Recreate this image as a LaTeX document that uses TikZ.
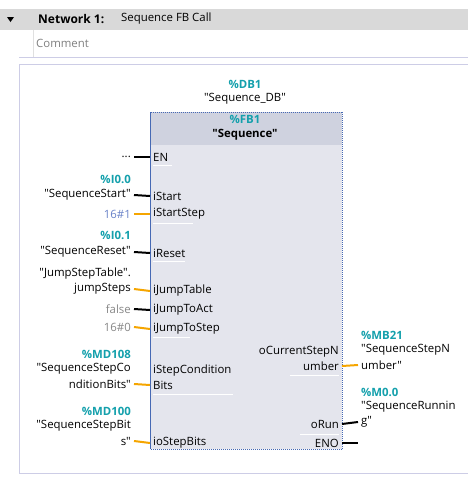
\documentclass[tikz,border=0pt]{standalone}
\usepackage{fontspec}
\setmainfont{Open Sans}[Ligatures=TeXOff]
\usetikzlibrary{positioning}
\definecolor{addrteal}{RGB}{20,160,172}
\definecolor{wireor}{RGB}{245,165,0}
\definecolor{lav}{RGB}{205,205,230}
\definecolor{hdrgray}{RGB}{217,217,217}
\definecolor{blkbody}{RGB}{228,229,237}
\definecolor{blkhead}{RGB}{207,210,223}
\definecolor{blkedge}{RGB}{70,105,180}
\definecolor{constblue}{RGB}{105,130,200}
\definecolor{constgray}{RGB}{135,135,135}
\begin{document}
\begin{tikzpicture}[x=1pt,y=-1pt,
  every node/.style={font=\fontsize{11.4}{13}\selectfont,inner sep=0pt},
  lab/.style={anchor=east,inner xsep=3pt},
  addr/.style={lab,text=addrteal,font=\fontsize{11.4}{13}\selectfont\bfseries},
  pin/.style={anchor=west,inner xsep=3pt},
  rpin/.style={anchor=east,inner xsep=3pt},
  rlab/.style={anchor=west,inner xsep=3pt},
  raddr/.style={rlab,text=addrteal,font=\fontsize{11.4}{13}\selectfont\bfseries},
  bw/.style={draw=black,line width=2pt},
  ow/.style={draw=wireor,line width=2pt},
  sepline/.style={draw=white,line width=1pt}]
\useasboundingbox (0,0) rectangle (468,480);
% network header and comment
\fill[hdrgray] (0,9) rectangle (468,30);
\fill (7,17) -- (14,17) -- (10.5,22) -- cycle;
\node[anchor=west,font=\fontsize{12}{14}\selectfont\bfseries] (nettitle) at (38,19) {Network 1:};
\node[anchor=west] (netname) at (121,19) {Sequence FB Call};
\draw[black!12] (33,30) -- (33,57);
\node[anchor=west,text=gray] (comment) at (36,43) {Comment};
\draw[lav] (19,57) -- (468,57);
\draw[lav] (19,64) rectangle (480,473);
% block
\node[fill=blkbody,minimum width=192pt,minimum height=337pt,anchor=north west] (seq) at (150,112) {};
\fill[blkhead] (seq.north west) rectangle ([yshift=-33pt]seq.north east);
\draw[blkedge,densely dotted,line width=1pt] (seq.north west) rectangle (seq.south east);
\draw[blkedge,line width=1pt] (seq.north west) -- (seq.south west);
\node[text=addrteal,font=\fontsize{11.4}{13}\selectfont\bfseries] (db) at (245,84) {\%DB1};
\node (dbname) at (245,99) {"Sequence\_DB"};
\node[text=addrteal,font=\fontsize{11.4}{13}\selectfont\bfseries] (fb) at (245,119) {\%FB1};
\node[font=\fontsize{11.4}{13}\selectfont\bfseries] (fbname) at (245,135) {"Sequence"};
% input pins
\node[pin] (pEN) at (150,157) {EN};
\node[pin] (pStart) at (150,196) {iStart};
\node[pin] (pStartStep) at (150,214) {iStartStep};
\node[pin] (pReset) at (150,253) {iReset};
\node[pin] (pJumpTable) at (150,291) {iJumpTable};
\node[pin] (pJumpToAct) at (150,310) {iJumpToAct};
\node[pin] (pJumpToStep) at (150,329) {iJumpToStep};
\node[pin] (pCond) at (150,371) {iStepCondition};
\node[pin] (pCondB) at (150,385) {Bits};
\node[pin] (pStepBits) at (150,443) {ioStepBits};
% output pins
\node[rpin] (pCur) at (342,352) {oCurrentStepN};
\node[rpin] (pCurB) at (342,366) {umber};
\node[rpin] (pRun) at (342,424) {oRun};
\node[rpin] (pENO) at (342,443) {ENO};
% separators
\draw[sepline] (153,165) -- (172,165);
\draw[sepline] (153,223) -- (193,223);
\draw[sepline] (153,261) -- (185,261);
\draw[sepline] (153,337) -- (190,337);
\draw[sepline] (153,394) -- (233,394);
\draw[sepline] (290,375) -- (339,375);
\draw[sepline] (300,434) -- (339,434);
% input operands
\node[lab] (lEN) at (134,157) {...};
\node[addr] (aStart) at (134,179) {\%I0.0};
\node[lab] (lStart) at (134,195) {"SequenceStart"};
\node[lab,text=constblue] (lStartStep) at (134,214) {16\#1};
\node[addr] (aReset) at (134,235) {\%I0.1};
\node[lab] (lReset) at (134,252) {"SequenceReset"};
\node[lab] (lJumpTableA) at (134,274) {"JumpStepTable".};
\node[lab] (lJumpTable) at (134,289) {jumpSteps};
\node[lab,text=constgray] (lJumpToAct) at (134,309) {false};
\node[lab,text=constgray] (lJumpToStep) at (134,327) {16\#0};
\node[addr] (aCond) at (134,354) {\%MD108};
\node[lab] (lCondA) at (134,369) {"SequenceStepCo};
\node[lab] (lCond) at (134,384) {nditionBits"};
\node[addr] (aStepBits) at (134,411) {\%MD100};
\node[lab] (lStepBitsA) at (134,426) {"SequenceStepBit};
\node[lab] (lStepBits) at (134,441) {s"};
% output operands
\node[raddr] (aCur) at (358,335) {\%MB21};
\node[rlab] (lCurA) at (358,350) {"SequenceStepN};
\node[rlab] (lCur) at (358,365) {umber"};
\node[raddr] (aRun) at (358,392) {\%M0.0};
\node[rlab] (lRunA) at (358,407) {"SequenceRunnin};
\node[rlab] (lRun) at (358,422) {g"};
\coordinate (cENO) at (358,443);
% wires
\draw[bw] (lEN.east) -- (pEN.west);
\draw[bw] (lStart.east) -- (pStart.west);
\draw[ow] (lStartStep.east) -- (pStartStep.west);
\draw[bw] (lReset.east) -- (pReset.west);
\draw[ow] (lJumpTable.east) -- (pJumpTable.west);
\draw[bw] (lJumpToAct.east) -- (pJumpToAct.west);
\draw[ow] (lJumpToStep.east) -- (pJumpToStep.west);
\draw[ow] (lCond.east) -- (pCondB.west);
\draw[ow] (lStepBits.east) -- (pStepBits.west);
\draw[ow] (pCurB.east) -- (lCur.west);
\draw[bw] (pRun.east) -- (lRun.west);
\draw[bw] (pENO.east) -- (cENO);
\end{tikzpicture}
\end{document}
